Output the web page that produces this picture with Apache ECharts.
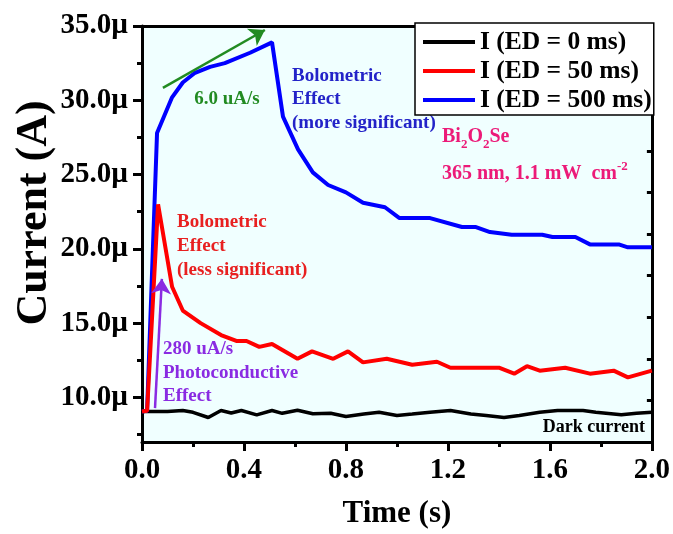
<!DOCTYPE html>
<html>
<head>
<meta charset="utf-8">
<script src="https://cdn.jsdelivr.net/npm/echarts@6.0.0/dist/echarts.min.js"></script>
<style>
  html, body { margin: 0; padding: 0; background: #fff; }
  #chart { width: 673px; height: 534px; }
</style>
</head>
<body>
<div id="chart"></div>
<script>
// values: time in s, current in µA
var timeDark = [0, 0.1, 0.16, 0.2, 0.26, 0.31, 0.35, 0.39, 0.45, 0.51, 0.55, 0.61, 0.67, 0.74, 0.8, 0.87, 0.93, 1.0, 1.06, 1.13, 1.21, 1.29, 1.35, 1.42, 1.48, 1.56, 1.63, 1.73, 1.78, 1.88, 1.94, 2.0];
var currentDark = [9.05, 9.05, 9.12, 9.0, 8.65, 9.12, 8.95, 9.12, 8.83, 9.12, 8.93, 9.14, 8.9, 8.94, 8.72, 8.88, 9.0, 8.79, 8.88, 9.0, 9.12, 8.88, 8.78, 8.65, 8.79, 9.0, 9.12, 9.12, 9.0, 8.83, 8.94, 9.0];

var time50 = [0, 0.02, 0.063, 0.118, 0.16, 0.23, 0.31, 0.37, 0.41, 0.46, 0.51, 0.61, 0.667, 0.75, 0.808, 0.867, 0.96, 1.06, 1.157, 1.21, 1.4, 1.46, 1.51, 1.56, 1.66, 1.757, 1.85, 1.906, 2.0];
var current50 = [9.05, 9.1, 23.0, 17.45, 15.85, 15.0, 14.2, 13.8, 13.8, 13.4, 13.6, 12.6, 13.1, 12.6, 13.1, 12.36, 12.6, 12.2, 12.4, 12.0, 12.0, 11.6, 12.1, 11.8, 12.0, 11.6, 11.8, 11.35, 11.8];

var time500 = [0, 0.02, 0.059, 0.118, 0.16, 0.208, 0.267, 0.325, 0.424, 0.51, 0.553, 0.612, 0.67, 0.73, 0.8, 0.867, 0.953, 1.01, 1.13, 1.255, 1.31, 1.365, 1.45, 1.57, 1.61, 1.7, 1.757, 1.87, 1.906, 2.0];
var current500 = [9.05, 9.1, 27.8, 30.2, 31.2, 31.85, 32.25, 32.5, 33.2, 33.9, 28.9, 26.7, 25.15, 24.3, 23.8, 23.1, 22.8, 22.07, 22.07, 21.47, 21.47, 21.13, 20.95, 20.95, 20.8, 20.8, 20.3, 20.3, 20.1, 20.1];

var seriesNames = ['I (ED = 0 ms)', 'I (ED = 50 ms)', 'I (ED = 500 ms)'];
var yTicks = [10, 15, 20, 25, 30, 35];
var yMinorTicks = [7.5, 12.5, 17.5, 22.5, 27.5, 32.5];

function pairs(t, v) {
  return t.map(function (x, i) { return [x, v[i]]; });
}

var font = '"Liberation Serif", "Times New Roman", serif';
var axisLineStyle = { color: '#000', width: 3 };

var chart = echarts.init(document.getElementById('chart'));

var option = {
  animation: false,
  backgroundColor: '#fff',
  grid: { left: 142, right: 21, top: 26, bottom: 90, show: true, backgroundColor: '#f0ffff', borderWidth: 0 },
  legend: {
    orient: 'vertical', left: 415, top: 23,
    padding: [6, 2, 2, 8], itemGap: 3, itemWidth: 52, itemHeight: 4, icon: 'rect',
    backgroundColor: '#fff', borderColor: '#000', borderWidth: 1.5, borderRadius: 0, z: 5,
    textStyle: { fontSize: 25.5, fontWeight: 'bold', fontFamily: font, color: '#000' },
    data: seriesNames
  },
  xAxis: [
    {
      type: 'value', position: 'bottom', min: 0, max: 2, interval: 0.4,
      axisLine: { show: true, onZero: false, lineStyle: axisLineStyle },
      axisTick: { show: true, length: 9, lineStyle: axisLineStyle },
      minorTick: { show: true, splitNumber: 2, length: 5, lineStyle: axisLineStyle },
      axisLabel: { margin: 14, fontSize: 29, fontWeight: 'bold', fontFamily: font, color: '#000',
        formatter: function (v) { return v.toFixed(1); } },
      splitLine: { show: false },
      name: 'Time (s)', nameLocation: 'middle', nameGap: 56,
      nameTextStyle: { fontSize: 31, fontWeight: 'bold', fontFamily: font, color: '#000' }
    },
    {
      type: 'value', position: 'top', min: 0, max: 2, interval: 0.4,
      axisLine: { show: true, onZero: false, lineStyle: axisLineStyle },
      axisTick: { show: false }, axisLabel: { show: false }, splitLine: { show: false }
    },
    {
      type: 'value', position: 'top', min: 0, max: 2, interval: 0.4, z: 10,
      axisLine: { show: false },
      axisTick: { show: true, inside: true, length: 7, lineStyle: axisLineStyle },
      minorTick: { show: true, splitNumber: 2, length: 4, lineStyle: axisLineStyle },
      axisLabel: { show: false }, splitLine: { show: false }
    }
  ],
  yAxis: [
    {
      type: 'value', position: 'left', min: 7, max: 35,
      axisLine: { show: true, onZero: false, lineStyle: axisLineStyle },
      axisTick: { show: true, length: 9, customValues: yTicks, lineStyle: axisLineStyle },
      axisLabel: { margin: 14, customValues: yTicks, fontSize: 29, fontWeight: 'bold', fontFamily: font, color: '#000',
        formatter: function (v) { return v.toFixed(1) + 'µ'; } },
      splitLine: { show: false }
    },
    {
      type: 'value', position: 'left', min: 7, max: 35,
      axisLine: { show: false },
      axisTick: { show: true, length: 5, customValues: yMinorTicks, lineStyle: axisLineStyle },
      axisLabel: { show: false }, splitLine: { show: false }
    },
    {
      type: 'value', position: 'right', min: 0, max: 10, interval: 1,
      axisLine: { show: true, onZero: false, lineStyle: axisLineStyle },
      axisTick: { show: true, inside: true, length: 5, lineStyle: axisLineStyle },
      axisLabel: { show: false }, splitLine: { show: false }
    }
  ],
  series: [
    {
      name: seriesNames[0], type: 'line', data: pairs(timeDark, currentDark),
      symbol: 'none', lineStyle: { color: '#000', width: 3.5 }, itemStyle: { color: '#000' }
    },
    {
      name: seriesNames[2], type: 'line', data: pairs(time500, current500),
      symbol: 'none', lineStyle: { color: '#0000ff', width: 4 }, itemStyle: { color: '#0000ff' },
      markLine: {
        silent: true, animation: false, symbol: ['none', 'arrow'], symbolSize: 15,
        label: { show: false }, emphasis: { disabled: true },
        data: [
          [{ coord: [0.082, 30.84], lineStyle: { color: '#228b22', width: 2.5, type: 'solid' } }, { coord: [0.482, 34.73] }],
          [{ coord: [0.051, 9.28], lineStyle: { color: '#8a2be2', width: 2.5, type: 'solid' } }, { coord: [0.078, 17.98] }]
        ]
      }
    },
    {
      name: seriesNames[1], type: 'line', data: pairs(time50, current50),
      symbol: 'none', lineStyle: { color: '#ff0000', width: 4 }, itemStyle: { color: '#ff0000' }
    }
  ],
  graphic: [
    { type: 'text', x: 35, y: 213, rotation: Math.PI / 2,
      style: { text: 'Current (A)', font: 'bold 44px ' + font, fill: '#000', textAlign: 'center', textVerticalAlign: 'middle' } },
    { type: 'text', x: 227, y: 99,
      style: { text: '6.0 uA/s', font: 'bold 19px ' + font, fill: '#228b22', textAlign: 'center', textVerticalAlign: 'middle' } },
    { type: 'text', x: 292, y: 99.5,
      style: { text: 'Bolometric\nEffect\n(more significant)', font: 'bold 19px ' + font, lineHeight: 23.5,
        fill: '#2323c8', textAlign: 'left', textVerticalAlign: 'middle' } },
    { type: 'text', x: 177, y: 246,
      style: { text: 'Bolometric\nEffect\n(less significant)', font: 'bold 19px ' + font, lineHeight: 24,
        fill: '#e82020', textAlign: 'left', textVerticalAlign: 'middle' } },
    { type: 'text', x: 163, y: 373,
      style: { text: '280 uA/s\nPhotoconductive\nEffect', font: 'bold 19px ' + font, lineHeight: 23.5,
        fill: '#8a2be2', textAlign: 'left', textVerticalAlign: 'middle' } },
    { type: 'text', x: 645, y: 427,
      style: { text: 'Dark current', font: 'bold 18px ' + font, fill: '#000', textAlign: 'right', textVerticalAlign: 'middle' } },
    { type: 'text', x: 442, y: 137,
      style: {
        text: '{b|Bi}{s|2}{b|O}{s|2}{b|Se}', textAlign: 'left', textVerticalAlign: 'middle',
        rich: {
          b: { fontSize: 20, fontWeight: 'bold', fontFamily: font, fill: '#ec1a78', color: '#ec1a78', lineHeight: 28, verticalAlign: 'middle' },
          s: { fontSize: 13, fontWeight: 'bold', fontFamily: font, fill: '#ec1a78', color: '#ec1a78', lineHeight: 28, verticalAlign: 'bottom' }
        }
      } },
    { type: 'text', x: 442, y: 174,
      style: {
        text: '{b|365 nm, 1.1 mW  cm}{p|-2}', textAlign: 'left', textVerticalAlign: 'middle',
        rich: {
          b: { fontSize: 20, fontWeight: 'bold', fontFamily: font, fill: '#ec1a78', color: '#ec1a78', lineHeight: 28, verticalAlign: 'middle' },
          p: { fontSize: 13, fontWeight: 'bold', fontFamily: font, fill: '#ec1a78', color: '#ec1a78', lineHeight: 28, verticalAlign: 'top' }
        }
      } }
  ]
};

chart.setOption(option);
window.addEventListener('resize', function () { chart.resize(); });
</script>
</body>
</html>
